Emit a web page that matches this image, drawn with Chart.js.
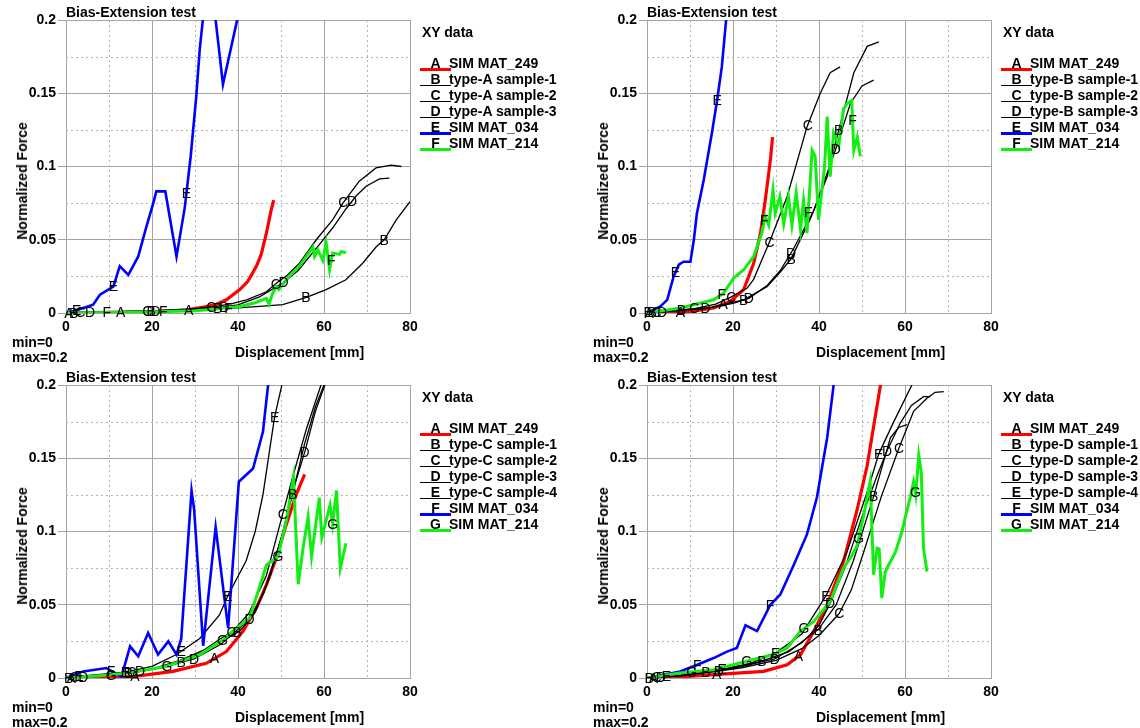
<!DOCTYPE html>
<html><head><meta charset="utf-8">
<script src="https://cdn.jsdelivr.net/npm/chart.js@4.4.1/dist/chart.umd.min.js"></script>
<style>
html,body{margin:0;padding:0;background:#fff;}
body{width:1140px;height:728px;position:relative;overflow:hidden;font-family:"Liberation Sans",Arial,sans-serif;color:#000;}
.panel{position:absolute;width:570px;height:363px;}
.panel canvas{position:absolute;left:0;top:0;}
.txt{position:absolute;font-weight:bold;font-size:14px;line-height:16px;white-space:nowrap;}
.ytitle{position:absolute;font-weight:bold;font-size:14px;line-height:16px;white-space:nowrap;transform:translate(-50%,-50%) rotate(-90deg);}
.ul{position:absolute;}
</style></head>
<body>
<script>
const FONT = '"Liberation Sans", Arial, sans-serif';

// ---------- tick labels ----------
const xTicks = [0, 20, 40, 60, 80];
const yTicks = [0, 0.05, 0.1, 0.15, 0.2];
const xMinor = [10, 30, 50, 70];
const yMinor = [0.025, 0.075, 0.125, 0.175];

// ---------- panel 1 : type-A ----------
const lettersA = ['A','B','C','D','E','F'];
const namesA = ['SIM MAT_249','type-A sample-1','type-A sample-2','type-A sample-3','SIM MAT_034','SIM MAT_214'];
const kindsA = ['sim249','exp','exp','exp','sim034','sim214'];
const a_A = [[0,0],[10,0.0005],[20,0.001],[28,0.002],[32,0.004],[35,0.006],[37.3,0.009],[40.4,0.016],[42.3,0.0216],[44.3,0.032],[45.4,0.04],[46.6,0.0545],[47.7,0.07],[48.3,0.077]];
const a_B = [[0,0],[10,0.0008],[20,0.0015],[30,0.0025],[40,0.0035],[45,0.0045],[50.4,0.0057],[55.9,0.0107],[60.5,0.016],[65.1,0.0227],[69,0.034],[72.1,0.045],[74,0.05],[76.8,0.0636],[80,0.076]];
const a_C = [[0,0],[10,0.0008],[20,0.0015],[30,0.003],[35,0.0045],[38.8,0.0065],[42,0.009],[46.6,0.0145],[49,0.0205],[51.5,0.026],[54.3,0.034],[58.2,0.05],[62,0.0636],[64.4,0.075],[68.2,0.09],[72.1,0.099],[75.6,0.101],[78,0.1]];
const a_D = [[0,0],[10,0.0007],[20,0.0013],[30,0.0025],[36,0.004],[40,0.0055],[45,0.011],[50.4,0.0205],[54,0.029],[59,0.047],[62,0.058],[65.1,0.071],[67.5,0.08],[69.8,0.0865],[72.9,0.0915],[75.2,0.092]];
const a_E = [[0,0],[2,0.0015],[4,0.0034],[6.3,0.0057],[7.9,0.0125],[11,0.018],[12.5,0.032],[14.5,0.026],[16.8,0.0386],[18.7,0.059],[20.3,0.075],[21,0.083],[23.1,0.083],[25.7,0.0386],[27.6,0.0716],[29,0.107],[30.3,0.148],[31.1,0.18],[32,0.205],[33.4,0.23],[34.8,0.2],[36.5,0.156],[39.8,0.2],[41,0.22]];
const a_F = [[0,0],[10,0.0003],[20,0.0008],[30,0.0015],[36,0.003],[40.4,0.0045],[44,0.007],[46.6,0.01],[47.2,0.006],[48,0.013],[48.9,0.018],[49.5,0.016],[51.2,0.0227],[54.3,0.032],[55.9,0.0386],[57.4,0.045],[57.8,0.0386],[58.6,0.043],[59.7,0.036],[60.5,0.048],[61.3,0.0295],[62,0.041],[63.6,0.04],[64,0.042],[65.1,0.041]];
const a_A_marks = [0.7, 12.7, 28.5];
const a_B_marks = [1.8, 19.8, 35.3, 55.8, 74];
const a_C_marks = [3.3, 18.9, 33.8, 48.8, 64.5];
const a_D_marks = [5.6, 20.8, 36.8, 50.6, 66.5];
const a_E_marks = [2.5, 11, 28];
const a_F_marks = [9.5, 22.6, 37.8, 61.7];

// ---------- panel 2 : type-B ----------
const lettersB = ['A','B','C','D','E','F'];
const namesB = ['SIM MAT_249','type-B sample-1','type-B sample-2','type-B sample-3','SIM MAT_034','SIM MAT_214'];
const kindsB = ['sim249','exp','exp','exp','sim034','sim214'];
const b_A = [[0,0],[5,0.0003],[10.1,0.001],[15.5,0.0034],[19.4,0.008],[22.5,0.016],[24.8,0.034],[26.4,0.0545],[27.5,0.077],[28.7,0.1045],[29.2,0.12]];
const b_B = [[0,0],[8,0.002],[15,0.004],[22.5,0.009],[27.9,0.018],[31,0.028],[33.5,0.037],[37.9,0.0636],[41.9,0.093],[44.6,0.125],[48.1,0.164],[51.2,0.182],[53.9,0.185]];
const b_C = [[0,0],[11,0.003],[16,0.006],[19.6,0.011],[23.3,0.017],[24.8,0.023],[28.7,0.05],[32.6,0.0795],[37.2,0.127],[40.3,0.15],[42.6,0.164],[44.9,0.168]];
const b_D = [[0,0],[13.6,0.003],[20,0.0065],[23.7,0.01],[28,0.019],[31,0.029],[34.1,0.044],[38.8,0.07],[43.8,0.111],[47.3,0.143],[50,0.155],[52.7,0.159]];
const b_E = [[0,0],[3.1,0.0045],[4.7,0.009],[6.2,0.025],[7.4,0.033],[8.5,0.035],[10.1,0.035],[10.9,0.05],[11.6,0.068],[13.2,0.091],[15.1,0.123],[16.3,0.145],[17.4,0.168],[18.4,0.2],[18.9,0.21]];
const b_F = [[0,0],[7.8,0.0034],[15.5,0.009],[17.8,0.0136],[20.2,0.024],[22.5,0.0295],[24.8,0.0386],[26.7,0.0545],[27.5,0.066],[28.3,0.06],[29.3,0.084],[29.8,0.068],[30.9,0.0795],[31.8,0.061],[32.9,0.0795],[33.7,0.06],[34.7,0.082],[35.7,0.057],[36.4,0.077],[37.2,0.0545],[38.4,0.111],[39.1,0.107],[39.9,0.0636],[41.3,0.1],[41.9,0.134],[42.6,0.093],[43.4,0.123],[44.6,0.114],[45.7,0.139],[46.5,0.143],[47.6,0.145],[48.1,0.111],[48.9,0.12],[49.6,0.107]];
const b_A_marks = [0.5, 7.8, 17.7];
const b_B_marks = [1.2, 8.0, 22.5, 33.5, 44.6];
const b_C_marks = [2.2, 11, 19.6, 28.5, 37.4];
const b_D_marks = [3.5, 13.6, 23.7, 33.5, 43.9];
const b_E_marks = [0.3, 6.6, 16.3];
const b_F_marks = [17.4, 27.3, 37.5, 47.8];

// ---------- panel 3 : type-C ----------
const lettersC = ['A','B','C','D','E','F','G'];
const namesC = ['SIM MAT_249','type-C sample-1','type-C sample-2','type-C sample-3','type-C sample-4','SIM MAT_034','SIM MAT_214'];
const kindsC = ['sim249','exp','exp','exp','exp','sim034','sim214'];
const c_A = [[0,0],[8,0.0003],[15.6,0.001],[24.9,0.0045],[32.6,0.01],[37.3,0.018],[41.2,0.032],[44.3,0.048],[46.6,0.0636],[48.9,0.082],[51.2,0.1045],[53.5,0.125],[55.5,0.139]];
const c_B = [[0,0],[10,0.002],[15.5,0.004],[20,0.006],[26.8,0.011],[32,0.018],[36,0.025],[40.4,0.032],[44,0.045],[47.5,0.07],[50.5,0.1],[52.8,0.127],[55.5,0.16],[58,0.185],[60,0.2]];
const c_C = [[0,0],[10,0.002],[15.5,0.004],[20,0.006],[26.5,0.012],[32,0.019],[36,0.027],[38.8,0.032],[42.5,0.044],[46.6,0.07],[50.4,0.112],[52.8,0.138],[55.9,0.17],[59.3,0.2]];
const c_D = [[0,0],[10,0.0018],[17,0.0045],[22,0.007],[29.8,0.013],[36,0.023],[42.7,0.04],[46,0.058],[50,0.095],[53,0.13],[55.5,0.154],[58,0.182],[60.2,0.2]];
const c_E = [[0,0],[6,0.002],[13.8,0.004],[20,0.008],[25.7,0.016],[31.1,0.027],[35.7,0.043],[37.6,0.056],[41.9,0.08],[44,0.1],[45.8,0.125],[48.5,0.178],[50.2,0.2]];
const c_F = [[0,0],[4,0.0045],[9.4,0.0068],[11,0.004],[12.9,0.001],[14.9,0.0216],[16.8,0.0148],[19.1,0.0307],[21.4,0.016],[23.8,0.025],[25.7,0.016],[26.8,0.027],[29.2,0.128],[29.8,0.115],[31.9,0.022],[34.8,0.103],[37.7,0.034],[40.2,0.134],[43.5,0.143],[45.8,0.168],[47,0.2],[47.5,0.21]];
const c_G = [[0,0],[10,0.002],[16,0.004],[23.4,0.008],[31.1,0.016],[36.5,0.026],[38.8,0.032],[42.7,0.041],[46.6,0.077],[49.3,0.083],[51.2,0.107],[52.9,0.137],[54,0.064],[55.2,0.09],[56.3,0.11],[57.1,0.083],[58.9,0.123],[59.5,0.096],[61.4,0.118],[62,0.105],[62.9,0.128],[63.8,0.075],[65.1,0.092]];
const c_A_marks = [1.2, 16, 34.5];
const c_B_marks = [0.6, 14.5, 26.8, 39.8, 52.7];
const c_C_marks = [2.0, 15.3, 38.5, 50.4];
const c_D_marks = [4.0, 17.2, 29.8, 42.7, 55.5];
const c_E_marks = [3.0, 13.8, 26.8, 37.6, 48.5];
const c_F_marks = [10.5];
const c_G_marks = [10.5, 23.5, 36.4, 49.3, 62];

// ---------- panel 4 : type-D ----------
const lettersD = ['A','B','C','D','E','F','G'];
const namesD = ['SIM MAT_249','type-D sample-1','type-D sample-2','type-D sample-3','type-D sample-4','SIM MAT_034','SIM MAT_214'];
const kindsD = ['sim249','exp','exp','exp','exp','sim034','sim214'];
const d_A = [[0,0],[8,0.0008],[15.5,0.0023],[27.1,0.0045],[32.6,0.009],[35.7,0.016],[38.8,0.032],[41.9,0.05],[45.7,0.0795],[48.8,0.114],[51.2,0.145],[54.3,0.2],[54.8,0.21]];
const d_B = [[0,0],[8,0.002],[13.7,0.004],[20,0.007],[26.7,0.0115],[33,0.018],[39.8,0.033],[44,0.05],[48,0.08],[52.7,0.124],[56.6,0.164],[58.5,0.171],[60.5,0.173]];
const d_C = [[0,0],[8,0.0015],[15,0.004],[22,0.007],[30,0.012],[36,0.02],[40,0.029],[44.7,0.044],[47.5,0.06],[50.4,0.086],[54.5,0.124],[58.6,0.157],[62,0.182],[65.1,0.191],[67,0.195],[69,0.1955]];
const d_D = [[0,0],[8,0.0018],[16.7,0.005],[22,0.008],[29.7,0.013],[36,0.024],[40,0.036],[42.6,0.051],[46,0.075],[50,0.11],[53.5,0.138],[55.8,0.155],[58.9,0.174],[61.5,0.186],[64.3,0.192],[65.9,0.192]];
const d_E = [[0,0],[8,0.002],[17.5,0.006],[24,0.01],[29.9,0.017],[36,0.03],[41.6,0.056],[46.5,0.086],[51.2,0.127],[53.9,0.153],[57.4,0.175],[61.6,0.2],[62,0.203]];
const d_F = [[0,0],[7.7,0.0045],[11.7,0.009],[15.5,0.0136],[18.6,0.018],[20.9,0.0205],[22.9,0.036],[25.6,0.032],[28.7,0.05],[31,0.057],[34.1,0.077],[37.2,0.098],[39.5,0.123],[41.9,0.164],[43.4,0.2],[43.7,0.21]];
const d_G = [[0,0],[7.7,0.0034],[15.5,0.0057],[23.2,0.0114],[29.4,0.016],[32.6,0.0205],[35.7,0.032],[38.8,0.0386],[42.6,0.052],[45.7,0.075],[47.3,0.082],[48.8,0.09],[50.4,0.111],[51.9,0.134],[52.7,0.0705],[53.5,0.0886],[54,0.088],[54.6,0.0545],[55.4,0.0727],[57.8,0.086],[59.3,0.1],[60,0.109],[61.2,0.123],[62,0.134],[62.5,0.125],[63.2,0.152],[63.8,0.14],[64.3,0.0886],[65.1,0.0727]];
const d_A_marks = [1.5, 16.2, 35.2];
const d_B_marks = [0.5, 13.7, 26.7, 39.8, 52.7];
const d_C_marks = [2.2, 44.7, 58.6];
const d_D_marks = [3.2, 16.7, 29.7, 42.6, 55.8];
const d_E_marks = [4.5, 17.5, 29.9, 41.6, 53.9];
const d_F_marks = [11.7, 28.6];
const d_G_marks = [10.4, 23.2, 36.5, 49.2, 62.4];

// ---------- styles ----------
const STYLE = {
  sim249: {color:'#ff0000', width:3.2, ul:3},
  exp:    {color:'#000000', width:1.3, ul:1.5},
  sim034: {color:'#0000ff', width:2.6, ul:3},
  sim214: {color:'#11ee11', width:3.0, ul:3}
};

const panels = [
  {left:0,   top:0,   letters:lettersA, names:namesA, kinds:kindsA, series:[a_A,a_B,a_C,a_D,a_E,a_F], marks:[a_A_marks,a_B_marks,a_C_marks,a_D_marks,a_E_marks,a_F_marks]},
  {left:581, top:0,   letters:lettersB, names:namesB, kinds:kindsB, series:[b_A,b_B,b_C,b_D,b_E,b_F], marks:[b_A_marks,b_B_marks,b_C_marks,b_D_marks,b_E_marks,b_F_marks]},
  {left:0,   top:365, letters:lettersC, names:namesC, kinds:kindsC, series:[c_A,c_B,c_C,c_D,c_E,c_F,c_G], marks:[c_A_marks,c_B_marks,c_C_marks,c_D_marks,c_E_marks,c_F_marks,c_G_marks]},
  {left:581, top:365, letters:lettersD, names:namesD, kinds:kindsD, series:[d_A,d_B,d_C,d_D,d_E,d_F,d_G], marks:[d_A_marks,d_B_marks,d_C_marks,d_D_marks,d_E_marks,d_F_marks,d_G_marks]}
];

const GRID = '#a4a4a4';

const minorGrid = {
  id: 'minorGrid',
  beforeDatasetsDraw(chart) {
    const {ctx, chartArea: a, scales: {x, y}} = chart;
    ctx.save();
    ctx.strokeStyle = '#b4b4b4';
    ctx.lineWidth = 1;
    ctx.setLineDash([2, 3]);
    xMinor.forEach(v => {
      const p = Math.round(x.getPixelForValue(v)) + 0.5;
      ctx.beginPath(); ctx.moveTo(p, a.top); ctx.lineTo(p, a.bottom); ctx.stroke();
    });
    yMinor.forEach(v => {
      const p = Math.round(y.getPixelForValue(v)) + 0.5;
      ctx.beginPath(); ctx.moveTo(a.left, p); ctx.lineTo(a.right, p); ctx.stroke();
    });
    ctx.restore();
  }
};

const letterMarks = {
  id: 'letterMarks',
  afterDatasetsDraw(chart) {
    const {ctx, scales: {x, y}} = chart;
    ctx.save();
    ctx.font = '14px ' + FONT;
    ctx.fillStyle = '#000';
    ctx.textAlign = 'center';
    ctx.textBaseline = 'middle';
    chart.data.datasets.forEach(ds => {
      const pts = ds.data;
      (ds.marks || []).forEach(mx => {
        let yv = null;
        for (let i = 1; i < pts.length; i++) {
          if (mx >= pts[i-1].x && mx <= pts[i].x) {
            const dx = pts[i].x - pts[i-1].x;
            const t = dx ? (mx - pts[i-1].x) / dx : 0;
            yv = pts[i-1].y + t * (pts[i].y - pts[i-1].y);
            break;
          }
        }
        if (yv === null) return;
        ctx.fillText(ds.letter, x.getPixelForValue(mx), y.getPixelForValue(yv) + 1);
      });
    });
    ctx.restore();
  }
};

function addText(parent, cls, text, left, top) {
  const d = document.createElement('div');
  d.className = cls;
  d.textContent = text;
  d.style.left = left + 'px';
  d.style.top = top + 'px';
  parent.appendChild(d);
  return d;
}

panels.forEach(p => {
  const div = document.createElement('div');
  div.className = 'panel';
  div.style.left = p.left + 'px';
  div.style.top = p.top + 'px';
  document.body.appendChild(div);
  const cv = document.createElement('canvas');
  cv.width = 570; cv.height = 363;
  cv.style.width = '570px'; cv.style.height = '363px';
  div.appendChild(cv);

  // texts
  addText(div, 'txt', 'Bias-Extension test', 66, 4);
  addText(div, 'txt', 'min=0', 12, 334);
  addText(div, 'txt', 'max=0.2', 12, 349);
  addText(div, 'txt', 'Displacement [mm]', 235, 344);
  addText(div, 'ytitle', 'Normalized Force', 22, 181);
  addText(div, 'txt', 'XY data', 422, 24);

  // legend
  p.letters.forEach((L, i) => {
    const st = STYLE[p.kinds[i]];
    const rowTop = 55 + 16 * i;
    const ul = document.createElement('div');
    ul.className = 'ul';
    ul.style.left = '420px';
    ul.style.width = '31px';
    ul.style.top = (rowTop + 14.5 - st.ul / 2) + 'px';
    ul.style.height = st.ul + 'px';
    ul.style.background = st.color;
    div.appendChild(ul);
    const lt = addText(div, 'txt', L, 420, rowTop);
    lt.style.width = '31px'; lt.style.textAlign = 'center';
    addText(div, 'txt', p.names[i], 449, rowTop);
  });

  const N = p.series.length;
  const datasets = p.series.map((s, i) => {
    const st = STYLE[p.kinds[i]];
    return {
      data: s.map(q => ({x: q[0], y: q[1]})),
      borderColor: st.color,
      backgroundColor: st.color,
      borderWidth: st.width,
      pointRadius: 0,
      showLine: true,
      fill: false,
      tension: 0,
      order: N - i,
      letter: p.letters[i],
      marks: p.marks[i]
    };
  });

  new Chart(cv, {
    type: 'scatter',
    data: {datasets},
    options: {
      responsive: false,
      animation: false,
      devicePixelRatio: 1,
      events: [],
      layout: {padding: {left: 0, top: 20, right: 160, bottom: 0}},
      plugins: {legend: {display: false}, tooltip: {enabled: false}},
      scales: {
        x: {
          type: 'linear', min: 0, max: 80,
          afterBuildTicks: s => { s.ticks = xTicks.map(v => ({value: v})); },
          afterFit: s => { s.height = 50; },
          grid: {color: GRID, lineWidth: 1, drawTicks: false},
          border: {color: GRID, width: 1},
          ticks: {padding: 6, color: '#000', autoSkip: false, maxRotation: 0,
                  font: {family: FONT, size: 14, weight: 'bold'},
                  callback: v => String(v)}
        },
        y: {
          type: 'linear', min: 0, max: 0.2,
          afterBuildTicks: s => { s.ticks = yTicks.map(v => ({value: v})); },
          afterFit: s => { s.width = 66; },
          grid: {color: GRID, lineWidth: 1, drawTicks: true, tickLength: 8, tickColor: GRID},
          border: {color: GRID, width: 1},
          ticks: {padding: 2, color: '#000', autoSkip: false,
                  font: {family: FONT, size: 14, weight: 'bold'},
                  callback: v => String(v)}
        }
      }
    },
    plugins: [minorGrid, letterMarks]
  });
});
</script>
</body></html>
